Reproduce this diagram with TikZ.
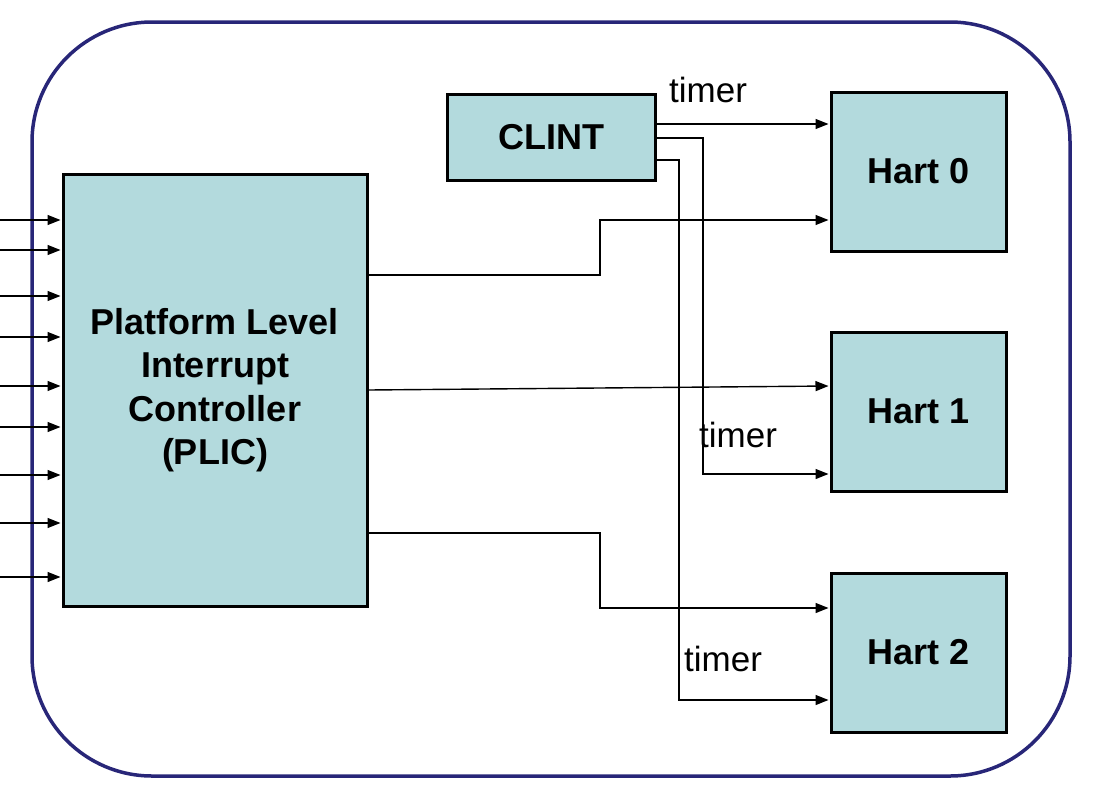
\documentclass[tikz,border=0pt]{standalone}
\usepackage{fontspec}
\setmainfont{Liberation Sans}
\usetikzlibrary{arrows.meta}
\definecolor{boxfill}{RGB}{179,218,221}
\definecolor{framecol}{RGB}{40,38,120}
\begin{document}
\begin{tikzpicture}[x=1pt,y=-1pt,
  blk/.style={draw=black, line width=3pt, fill=boxfill, inner sep=0pt,
    font=\bfseries\fontsize{36}{43.5}\selectfont, align=center},
  wire/.style={line width=1.4pt, -{Triangle[length=13pt,width=10pt]}, shorten >=1pt},
  lbl/.style={font=\fontsize{35}{40}\selectfont, inner sep=0pt, anchor=west}]
\useasboundingbox (0,0) rectangle (1095,790);
\draw[framecol, line width=3.5pt, rounded corners=120pt] (32,22) rectangle (1070,776);
\node[blk, minimum width=304pt, minimum height=432pt] (plic) at (215,390)
  {Platform Level\\Interrupt\\Controller\\(PLIC)};
\node[blk, minimum width=208pt, minimum height=86pt] (clint) at (551,137.5) {CLINT};
\node[blk, minimum width=175pt, minimum height=159pt] (hart0) at (918.5,171.5) {Hart 0};
\node[blk, minimum width=175pt, minimum height=159pt] (hart1) at (918.5,411.5) {Hart 1};
\node[blk, minimum width=175pt, minimum height=159pt] (hart2) at (918.5,652.5) {Hart 2};
% inputs
\foreach \y in {220,250,296,337,386,427,475,523,577}
  \draw[wire] (0,\y) -- (plic.west |- 0,\y);
% PLIC outputs
\draw[wire] (plic.east |- 0,275) -| (600,220) -- (hart0.west |- 0,220);
\draw[wire] (plic.east |- 0,390) -- (hart1.west |- 0,386);
\draw[wire] (plic.east |- 0,533) -| (600,608) -- (hart2.west |- 0,608);
% CLINT outputs
\draw[wire] (clint.east |- 0,124) -- (hart0.west |- 0,124);
\draw[wire] (clint.east |- 0,138) -| (703,474) -- (hart1.west |- 0,474);
\draw[wire] (clint.east |- 0,160) -| (679,700) -- (hart2.west |- 0,700);
% labels
\node[lbl] (t0) at (669,90) {timer};
\node[lbl] (t1) at (699,435) {timer};
\node[lbl] (t2) at (684,659) {timer};
\end{tikzpicture}
\end{document}
